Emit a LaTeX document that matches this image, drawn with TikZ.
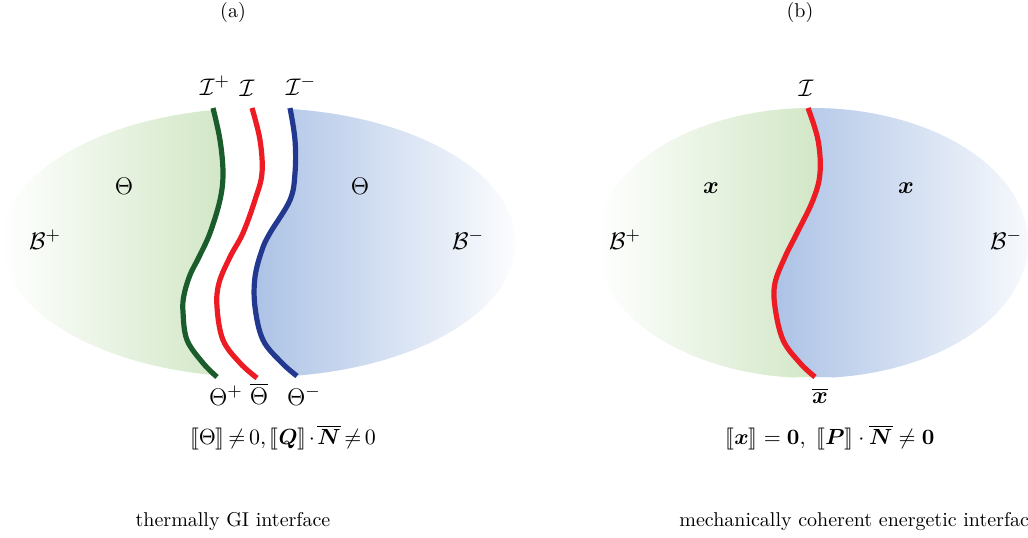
\documentclass[tikz,border=0pt]{standalone}
\usepackage{amsmath,amssymb,bm,stmaryrd}
\definecolor{fillG}{HTML}{D4E8C9}
\definecolor{fillB}{HTML}{ADC3E6}
\definecolor{lineG}{HTML}{1A5C2C}
\definecolor{lineR}{HTML}{ED1C24}
\definecolor{lineB}{HTML}{22398F}
\tikzset{
  lbl/.style={inner sep=0pt, font=\fontsize{12.5}{14}\selectfont},
  captext/.style={inner sep=0pt, font=\fontsize{10}{12}\selectfont},
  iface/.style={line width=2.6pt, line cap=butt},
}
\def\curveGa{(213,108) (220,140) (223,173) (220,200) (210,233) (199,257) (190,275) (184,295) (183,312) (187,340) (203,363) (217,377)}
\def\curveRa{(252,108) (260,140) (262,173) (255,200) (243,233) (230,257) (219,283) (217,307) (223,340) (240,363) (257,378)}
\def\curveBa{(290,108) (295,140) (295,173) (290,200) (270,233) (262,250) (255,277) (255,307) (263,340) (282,363) (297,376)}
\def\curveRb{(808,108) (818,140) (820,173) (813,200) (797,233) (785,257) (775,283) (775,307) (783,340) (800,363) (815,377)}
\begin{document}
\begin{tikzpicture}[x=0.5pt,y=-0.5pt]
\clip (0,0) rectangle (1028,537);
% ---------------- (a) ----------------
\begin{scope}
  \clip (258.5,242.5) ellipse [x radius=257, y radius=134.5];
  \begin{scope}
    \clip plot[smooth, tension=0.6] coordinates {\curveGa} -- (0,380) -- (0,104) -- cycle;
    \foreach \i in {0,...,113}{
      \pgfmathsetmacro\xx{2*\i}
      \pgfmathsetmacro\pp{min(100,max(0,(\xx-2)/211*100))}
      \fill[fillG!\pp!white] (\xx,100) rectangle (\xx+2.8,385);
    }
  \end{scope}
  \begin{scope}
    \clip plot[smooth, tension=0.6] coordinates {\curveBa} -- (520,380) -- (520,104) -- cycle;
    \foreach \i in {0,...,133}{
      \pgfmathsetmacro\xx{250+2*\i}
      \pgfmathsetmacro\pp{min(100,max(4,100-(\xx-255)/260*96))}
      \fill[fillB!\pp!white] (\xx,100) rectangle (\xx+2.8,385);
    }
  \end{scope}
\end{scope}
\draw[iface, lineG] plot[smooth, tension=0.6] coordinates {\curveGa};
\draw[iface, lineR] plot[smooth, tension=0.6] coordinates {\curveRa};
\draw[iface, lineB] plot[smooth, tension=0.6] coordinates {\curveBa};

\node[captext] (ta) at (233,12) {(a)};
\node[lbl] (Ip) at (215,86) {$\mathcal{I}^+$};
\node[lbl] (I0) at (247,88) {$\mathcal{I}$};
\node[lbl] (Im) at (301,86) {$\mathcal{I}^-$};
\node[lbl] (thl) at (124,186) {$\Theta$};
\node[lbl] (thr) at (360,186) {$\Theta$};
\node[lbl] (Bp) at (45,240) {$\mathcal{B}^+$};
\node[lbl] (Bm) at (468,240) {$\mathcal{B}^-$};
\node[lbl] (Tp) at (226,396) {$\Theta^+$};
\node[lbl] (Tb) at (259,394) {$\overline{\Theta}$};
\node[lbl] (Tm) at (304,396) {$\Theta^-$};
\node[lbl, font=\fontsize{10.8}{13}\selectfont] (fa) at (283,438) {$\thickmuskip=3mu\medmuskip=2mu\llbracket\Theta\rrbracket\neq0,\llbracket\bm{Q}\rrbracket\cdot\overline{\bm{N}}\neq0$};
\node[captext] (ca) at (233,521) {thermally GI interface};

% ---------------- (b) ----------------
\begin{scope}
  \clip (812,243) ellipse [x radius=216, y radius=135];
  \begin{scope}
    \clip plot[smooth, tension=0.6] coordinates {\curveRb} -- (590,380) -- (590,104) -- cycle;
    \foreach \i in {0,...,116}{
      \pgfmathsetmacro\xx{594+2*\i}
      \pgfmathsetmacro\pp{min(100,max(0,(\xx-597)/211*100))}
      \fill[fillG!\pp!white] (\xx,100) rectangle (\xx+2.8,385);
    }
  \end{scope}
  \begin{scope}
    \clip plot[smooth, tension=0.6] coordinates {\curveRb} -- (1030,380) -- (1030,104) -- cycle;
    \foreach \i in {0,...,130}{
      \pgfmathsetmacro\xx{770+2*\i}
      \pgfmathsetmacro\pp{min(100,max(4,100-(\xx-775)/253*90))}
      \fill[fillB!\pp!white] (\xx,100) rectangle (\xx+2.8,385);
    }
  \end{scope}
\end{scope}
\draw[iface, lineR] plot[smooth, tension=0.6] coordinates {\curveRb};

\node[captext] (tb) at (800,12) {(b)};
\node[lbl] (Ib) at (806,88) {$\mathcal{I}$};
\node[lbl] (xl) at (711,188) {$\bm{x}$};
\node[lbl] (xr) at (906,188) {$\bm{x}$};
\node[lbl] (Bpb) at (625,240) {$\mathcal{B}^+$};
\node[lbl] (Bmb) at (1006,240) {$\mathcal{B}^-$};
\node[lbl] (xb) at (820,396) {$\overline{\bm{x}}$};
\node[lbl, font=\fontsize{11}{14}\selectfont] (fb) at (830,438) {$\llbracket\bm{x}\rrbracket=\bm{0},\ \llbracket\bm{P}\rrbracket\cdot\overline{\bm{N}}\neq\bm{0}$};
\node[captext, anchor=west] (cb) at (679,521) {mechanically coherent energetic interface};
\end{tikzpicture}
\end{document}
